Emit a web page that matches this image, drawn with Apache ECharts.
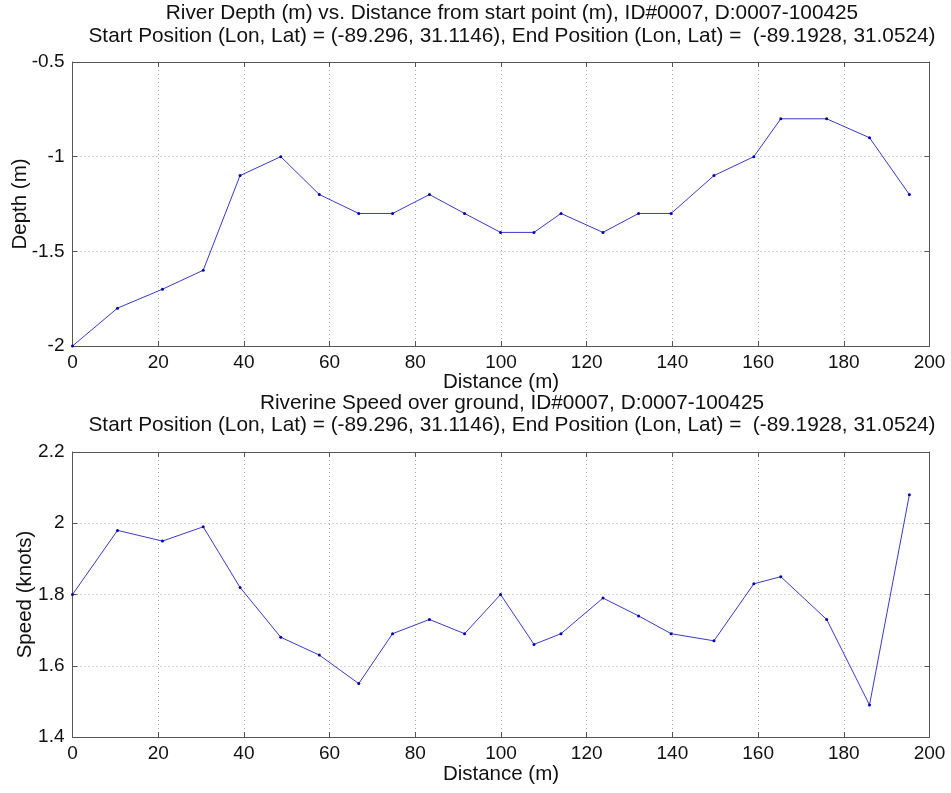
<!DOCTYPE html>
<html>
<head>
<meta charset="utf-8">
<script src="https://cdn.jsdelivr.net/npm/echarts@6/dist/echarts.min.js"></script>
<style>
  html, body { margin: 0; padding: 0; background: #fff; }
  #chart { width: 951px; height: 793px; }
</style>
</head>
<body>
<div id="chart"></div>
<script>
// distance along the track (m), shared by both plots
const distance = [0, 10.5, 21, 30.5, 39.1, 48.6, 57.6, 66.8, 74.7, 83.3, 91.5, 99.9,
  107.7, 114, 123.8, 132.1, 139.7, 149.7, 159, 165.3, 176, 186, 195.3];
const depth = [-2, -1.8, -1.7, -1.6, -1.1, -1, -1.2, -1.3, -1.3, -1.2, -1.3, -1.4,
  -1.4, -1.3, -1.4, -1.3, -1.3, -1.1, -1, -0.8, -0.8, -0.9, -1.2];
const speed = [1.8, 1.98, 1.95, 1.99, 1.82, 1.68, 1.63, 1.55, 1.69, 1.73, 1.69, 1.8,
  1.66, 1.69, 1.79, 1.74, 1.69, 1.67, 1.83, 1.85, 1.73, 1.49, 2.08];

const depthTitle = 'River Depth (m) vs. Distance from start point (m), ID#0007, D:0007-100425\n' +
  'Start Position (Lon, Lat) = (-89.296, 31.1146), End Position (Lon, Lat) =  (-89.1928, 31.0524)';
const speedTitle = 'Riverine Speed over ground, ID#0007, D:0007-100425\n' +
  'Start Position (Lon, Lat) = (-89.296, 31.1146), End Position (Lon, Lat) =  (-89.1928, 31.0524)';

const FONT = "'Liberation Sans', Arial, sans-serif";
const boxColor = '#555';

function pairs(xs, ys) {
  return xs.map((x, i) => [x, ys[i]]);
}

// bottom/left axes carry labels; top/right ones just close the box with ticks
function xAxes(grid, gap) {
  const base = {
    type: 'value', gridIndex: grid, min: 0, max: 200, interval: 20,
    axisLine: { show: true, onZero: false, lineStyle: { color: boxColor } },
    axisTick: { show: true, inside: true, length: 5, lineStyle: { color: boxColor } }
  };
  return [
    Object.assign({}, base, {
      position: 'bottom',
      name: 'Distance (m)', nameLocation: 'middle', nameGap: gap, nameMoveOverlap: false,
      nameTextStyle: { color: '#111', fontSize: 20.5, fontFamily: FONT },
      axisLabel: { color: '#111', fontSize: 19, fontFamily: FONT, margin: 7 },
      splitLine: { show: true, lineStyle: { color: '#aaa', type: [1, 3], width: 1 } }
    }),
    Object.assign({}, base, {
      position: 'top', axisLabel: { show: false }, splitLine: { show: false }
    })
  ];
}

function yAxes(grid, min, max, interval, name, gap) {
  const base = {
    type: 'value', gridIndex: grid, min: min, max: max, interval: interval,
    axisLine: { show: true, onZero: false, lineStyle: { color: boxColor } },
    axisTick: { show: true, inside: true, length: 5, lineStyle: { color: boxColor } }
  };
  return [
    Object.assign({}, base, {
      position: 'left',
      name: name, nameLocation: 'middle', nameGap: gap, nameRotate: 90, nameMoveOverlap: false,
      nameTextStyle: { color: '#111', fontSize: 20.5, fontFamily: FONT },
      axisLabel: { color: '#111', fontSize: 19, fontFamily: FONT, margin: 8 },
      splitLine: { show: true, lineStyle: { color: '#aaa', type: [1, 3], width: 1 } }
    }),
    Object.assign({}, base, {
      position: 'right', axisLabel: { show: false }, splitLine: { show: false }
    })
  ];
}

const lineStyle = { color: '#3a3ac8', width: 1 };
const dotStyle = { color: '#0000b0' };

const chart = echarts.init(document.getElementById('chart'), null, { renderer: 'canvas' });
chart.setOption({
  backgroundColor: '#fff',
  animation: false,
  title: [
    {
      text: depthTitle, left: 512, top: 2, textAlign: 'center', padding: 0,
      textStyle: { fontSize: 20.8, fontWeight: 'normal', color: '#111', fontFamily: FONT, lineHeight: 23 }
    },
    {
      text: speedTitle, left: 512, top: 392, textAlign: 'center', padding: 0,
      textStyle: { fontSize: 20.8, fontWeight: 'normal', color: '#111', fontFamily: FONT, lineHeight: 22 }
    }
  ],
  grid: [
    { left: 72.5, right: 21.5, top: 62, height: 284, outerBoundsMode: 'none', containLabel: false },
    { left: 72.5, right: 21.5, top: 452, height: 285, outerBoundsMode: 'none', containLabel: false }
  ],
  xAxis: xAxes(0, 26).concat(xAxes(1, 27)),
  yAxis: yAxes(0, -2, -0.5, 0.5, 'Depth (m)', 42).concat(yAxes(1, 1.4, 2.2, 0.2, 'Speed (knots)', 37)),
  series: [
    {
      type: 'line', xAxisIndex: 0, yAxisIndex: 0, data: pairs(distance, depth),
      symbol: 'circle', symbolSize: 3, lineStyle: lineStyle, itemStyle: dotStyle
    },
    {
      type: 'line', xAxisIndex: 2, yAxisIndex: 2, data: pairs(distance, speed),
      symbol: 'circle', symbolSize: 3, lineStyle: lineStyle, itemStyle: dotStyle
    }
  ]
});
</script>
</body>
</html>
